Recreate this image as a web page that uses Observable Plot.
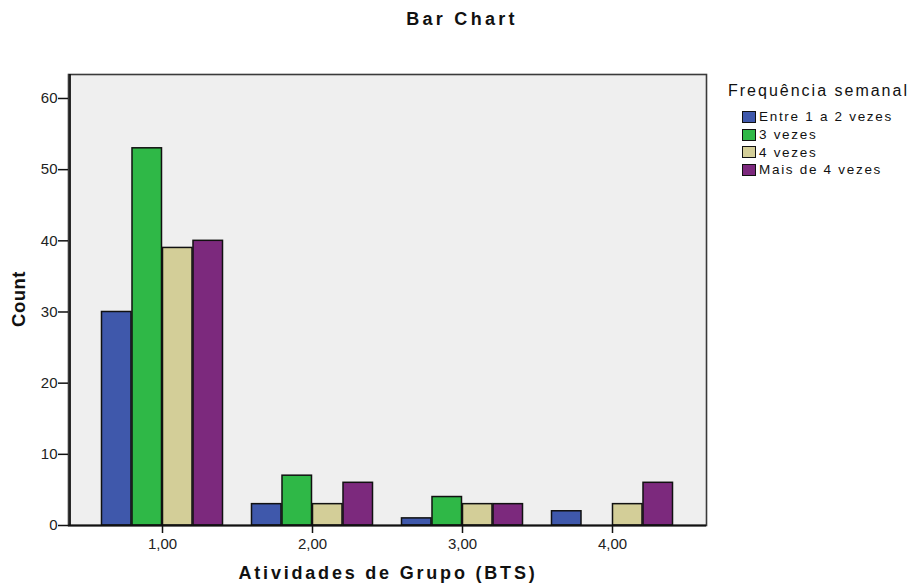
<!DOCTYPE html>
<html>
<head>
<meta charset="utf-8">
<script src="https://cdn.jsdelivr.net/npm/d3@7"></script>
<script src="https://cdn.jsdelivr.net/npm/@observablehq/plot@0.6"></script>
<style>
  body { margin: 0; background: #fff; font-family: "Liberation Sans", Arial, sans-serif; }
  #wrap { position: relative; width: 913px; height: 587px; overflow: hidden; }
  #chart { position: absolute; left: 0; top: 0; }
  .title { position: absolute; left: 0; width: 924px; top: 9px; text-align: center; font-weight: bold; font-size: 18px; letter-spacing: 3.3px; color: #111; }
  .ylab { position: absolute; left: 19px; top: 299px; transform: translate(-50%, -50%) rotate(-90deg); font-weight: bold; font-size: 18.5px; letter-spacing: 0.5px; color: #111; white-space: nowrap; }
  .xlab { position: absolute; left: 0; width: 776px; top: 563px; text-align: center; font-weight: bold; font-size: 18px; letter-spacing: 2.8px; color: #111; }
  .legend { position: absolute; left: 728px; top: 82px; color: #111; }
  .legend .lt { font-size: 16px; letter-spacing: 2px; margin-bottom: 8px; }
  .legend .it { display: flex; align-items: center; font-size: 13.5px; letter-spacing: 1.7px; height: 17.7px; margin-left: 14px; }
  .legend .sw { width: 12px; height: 10px; border: 1.5px solid #111; margin-right: 3px; }
</style>
</head>
<body>
<div id="wrap">
  <div id="chart"></div>
  <div class="title">Bar Chart</div>
  <div class="ylab">Count</div>
  <div class="xlab">Atividades de Grupo (BTS)</div>
  <div class="legend" id="legend"></div>
</div>
<script>
const categories = ["1,00", "2,00", "3,00", "4,00"];
const seriesNames = ["Entre 1 a 2 vezes", "3 vezes", "4 vezes", "Mais de 4 vezes"];
const seriesColors = ["#3f58ab", "#2fb847", "#d3ce98", "#7c297d"];
const entre1a2 = [30, 3, 1, 2];
const tresVezes = [53, 7, 4, 0];
const quatroVezes = [39, 3, 3, 3];
const maisDe4 = [40, 6, 3, 6];
const yTicks = [0, 10, 20, 30, 40, 50, 60];

const legend = document.getElementById("legend");
legend.innerHTML = '<div class="lt">Frequência semanal</div>' + seriesNames.map((s, i) =>
  `<div class="it"><span class="sw" style="background:${seriesColors[i]}"></span>${s}</div>`).join("");

const seriesValues = [entre1a2, tresVezes, quatroVezes, maisDe4];
const data = [];
categories.forEach((c, ci) => {
  seriesNames.forEach((s, si) => {
    data.push({ cat: c, series: s, count: seriesValues[si][ci] });
  });
});

const W = 913, H = 587, mL = 68, mR = 207, mT = 74, mB = 62;
const padOuter = 0.1126;
const groupFrac = 0.808;
const bandW = (W - mL - mR) / (categories.length + 2 * padOuter);
const barW = bandW * groupFrac / seriesNames.length;
const off = (bandW - barW * seriesNames.length) / 2;

const barMarks = seriesNames.map((s, i) =>
  Plot.barY(data.filter(d => d.series === s), {
    x: "cat", y: "count", fill: "series", stroke: "#111", strokeWidth: 1.5,
    insetLeft: off + i * barW, insetRight: bandW - off - (i + 1) * barW
  })
);

const chart = Plot.plot({
  width: W,
  height: H,
  marginLeft: mL,
  marginRight: mR,
  marginTop: mT,
  marginBottom: mB,
  style: { fontFamily: "'Liberation Sans', Arial, sans-serif", fontSize: "15px", color: "#222", background: "transparent" },
  x: { domain: categories, paddingInner: 0, paddingOuter: padOuter, axis: null },
  y: { domain: [0, 63.37], axis: null },
  color: { domain: seriesNames, range: seriesColors },
  marks: [
    Plot.frame({ fill: "#efefef", stroke: "#3a3a3a", strokeWidth: 1.6 }),
    ...barMarks,
    Plot.ruleY([0], { stroke: "#111", strokeWidth: 1.8 }),
    Plot.ruleX([categories[0]], { x: () => categories[0], dx: -bandW / 2 - padOuter * bandW, stroke: "#111", strokeWidth: 1.8 }),
    Plot.axisY({ ticks: yTicks, tickSize: 10, tickPadding: 1, label: null, stroke: "#111", strokeWidth: 1.5, fill: "#222" }),
    Plot.axisX({ tickSize: 8, tickPadding: 5, label: null, stroke: "#111", strokeWidth: 1.5, fill: "#222" })
  ]
});
document.getElementById("chart").appendChild(chart);
</script>
</body>
</html>
